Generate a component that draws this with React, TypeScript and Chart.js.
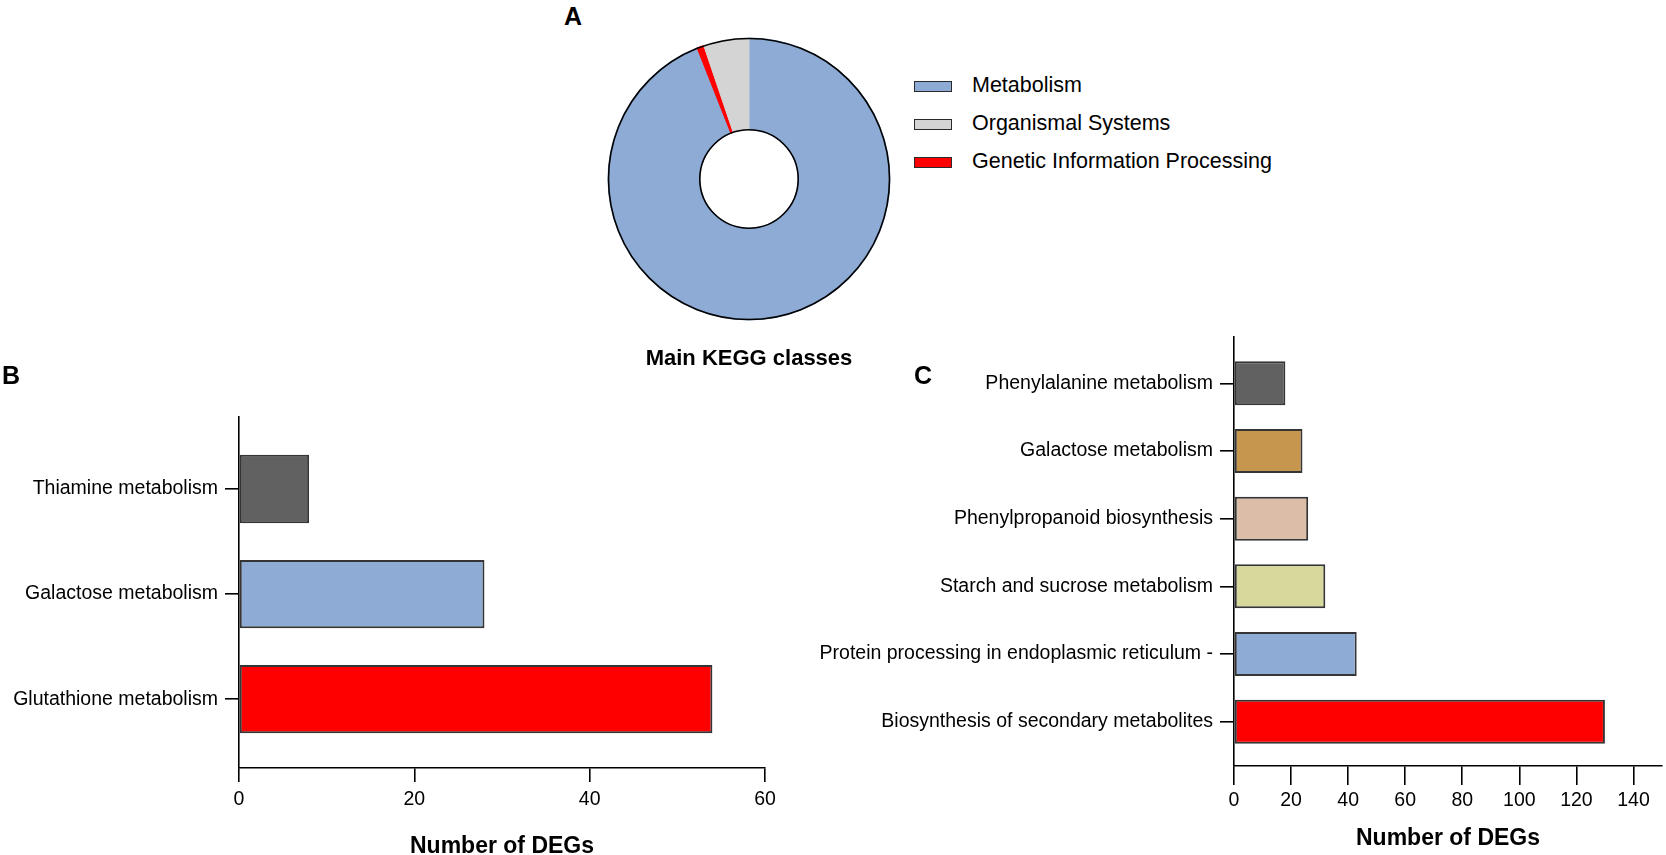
import React, { useEffect, useRef } from 'react';
import { Chart, registerables } from 'chart.js';

Chart.register(...registerables);

const FONT = '"Liberation Sans", Arial, Helvetica, sans-serif';

// ---------- Panel A: main KEGG classes (share of DEGs, %) ----------
const keggClasses = ['Metabolism', 'Genetic Information Processing', 'Organismal Systems'];
const keggShares = [94.0, 0.8, 5.2];
const keggColors = ['#8DABD4', '#FF0000', '#D4D4D4'];
const legendOrder = ['Metabolism', 'Organismal Systems', 'Genetic Information Processing'];
const donutTitle = 'Main KEGG classes';

// ---------- Panel B ----------
const bCategories = ['Thiamine metabolism', 'Galactose metabolism', 'Glutathione metabolism'];
const bValues = [8, 28, 54];
const bColors = ['#616161', '#8DABD4', '#FF0000'];
const bAxisMax = 60;
const bTickStep = 20;

// ---------- Panel C ----------
const cCategories = [
  'Phenylalanine metabolism',
  'Galactose metabolism',
  'Phenylpropanoid biosynthesis',
  'Starch and sucrose metabolism',
  'Protein processing in endoplasmic reticulum -',
  'Biosynthesis of secondary metabolites',
];
const cValues = [18, 24, 26, 32, 43, 130];
const cColors = ['#616161', '#C6964F', '#DBBDA8', '#D7D89B', '#8DABD4', '#FF0000'];
const cAxisMax = 150;
const cTickStep = 20;

const xTitle = 'Number of DEGs';

type BarLayout = {
  xMax: number;
  xStep: number;
  yAxisWidth: number;
  xAxisHeight: number;
  padTop: number;
  padRight: number;
  xTickLen: number;
  xTickPad: number;
  titlePadBottom: number;
};

function barConfig(cats: string[], vals: number[], colors: string[], L: BarLayout): any {
  return {
    type: 'bar',
    data: {
      datasets: [
        {
          data: vals.map((v, i) => ({ x: v, y: i })),
          backgroundColor: colors,
          borderColor: '#353535',
          borderWidth: 2,
          borderSkipped: false,
          barPercentage: 0.65,
          categoryPercentage: 1,
        },
      ],
    },
    options: {
      indexAxis: 'y',
      responsive: false,
      animation: false,
      events: [],
      layout: { padding: { top: L.padTop, right: L.padRight, bottom: 0, left: 0 } },
      plugins: { legend: { display: false }, tooltip: { enabled: false }, title: { display: false } },
      scales: {
        x: {
          type: 'linear',
          position: 'bottom',
          min: 0,
          max: L.xMax,
          offset: false,
          ticks: {
            stepSize: L.xStep,
            includeBounds: false,
            color: '#000',
            padding: L.xTickPad,
            maxRotation: 0,
            font: { family: FONT, size: 19.5 },
          },
          grid: {
            drawOnChartArea: false,
            drawTicks: true,
            tickLength: L.xTickLen,
            color: '#000',
            lineWidth: 1.6,
            offset: false,
          },
          border: { display: true, color: '#000', width: 1.6 },
          title: {
            display: true,
            text: xTitle,
            color: '#000',
            font: { family: FONT, size: 23, weight: 'bold', lineHeight: 1 },
            padding: { top: 0, bottom: L.titlePadBottom },
          },
          afterFit: (s: any) => {
            s.height = L.xAxisHeight;
          },
        },
        y: {
          type: 'linear',
          position: 'left',
          reverse: true,
          min: -0.685,
          max: cats.length - 1 + 0.655,
          offset: false,
          ticks: {
            stepSize: 1,
            includeBounds: false,
            autoSkip: false,
            color: '#000',
            padding: 7,
            font: { family: FONT, size: 19.5 },
            callback: (v: any) => (Number.isInteger(v) && cats[v] !== undefined ? cats[v] : ''),
          },
          grid: {
            drawOnChartArea: false,
            drawTicks: true,
            tickLength: 14,
            color: '#000',
            lineWidth: 1.6,
            offset: false,
          },
          border: { display: true, color: '#000', width: 1.6 },
          afterFit: (s: any) => {
            s.width = L.yAxisWidth;
          },
        },
      },
    },
  };
}

const ringOutline = {
  id: 'ringOutline',
  afterDatasetsDraw(chart: any) {
    const arc = chart.getDatasetMeta(0).data[0];
    if (!arc) return;
    const { x, y, outerRadius, innerRadius } = arc.getProps(['x', 'y', 'outerRadius', 'innerRadius'], true);
    const ctx = chart.ctx;
    ctx.save();
    ctx.strokeStyle = '#000';
    ctx.lineWidth = 1.6;
    ctx.beginPath();
    ctx.arc(x, y, outerRadius - 0.5, 0, Math.PI * 2);
    ctx.stroke();
    ctx.beginPath();
    ctx.arc(x, y, innerRadius, 0, Math.PI * 2);
    ctx.stroke();
    ctx.restore();
  },
};

function useChart(ref: React.RefObject<HTMLCanvasElement | null>, makeConfig: () => any) {
  useEffect(() => {
    if (!ref.current) return;
    const chart = new Chart(ref.current, makeConfig());
    return () => chart.destroy();
  }, []);
}

const abs = (left: number, top: number): React.CSSProperties => ({ position: 'absolute', left, top });

function Label({ x, y, size, text }: { x: number; y: number; size: number; text: string }) {
  return (
    <div
      style={{
        position: 'absolute',
        left: x,
        top: y,
        transform: 'translate(-50%, -50%)',
        fontFamily: FONT,
        fontWeight: 'bold',
        fontSize: size,
        lineHeight: 1,
        whiteSpace: 'nowrap',
        color: '#000',
      }}
    >
      {text}
    </div>
  );
}

export default function App() {
  const donutRef = useRef<HTMLCanvasElement>(null);
  const bRef = useRef<HTMLCanvasElement>(null);
  const cRef = useRef<HTMLCanvasElement>(null);

  useChart(donutRef, () => ({
    type: 'doughnut',
    data: {
      labels: keggClasses,
      datasets: [
        {
          data: keggShares,
          backgroundColor: keggColors,
          borderColor: keggColors,
          borderWidth: 1,
        },
      ],
    },
    options: {
      responsive: false,
      animation: false,
      events: [],
      radius: 141,
      cutout: '34.9%',
      rotation: 0,
      layout: { padding: 0 },
      plugins: { legend: { display: false }, tooltip: { enabled: false } },
    },
    plugins: [ringOutline],
  }));

  useChart(bRef, () =>
    barConfig(bCategories, bValues, bColors, {
      xMax: bAxisMax,
      xStep: bTickStep,
      yAxisWidth: 239,
      xAxisHeight: 92,
      padTop: 37,
      padRight: 35,
      xTickLen: 14,
      xTickPad: 6,
      titlePadBottom: 1.5,
    })
  );

  useChart(cRef, () =>
    barConfig(cCategories, cValues, cColors, {
      xMax: cAxisMax,
      xStep: cTickStep,
      yAxisWidth: 434,
      xAxisHeight: 94,
      padTop: 37,
      padRight: 4,
      xTickLen: 19,
      xTickPad: 4,
      titlePadBottom: 10,
    })
  );

  const legendItems = legendOrder.map((name) => {
    const i = keggClasses.indexOf(name);
    return { name, color: keggColors[i] };
  });

  return (
    <div
      style={{
        position: 'absolute',
        left: 0,
        top: 0,
        width: 1666,
        height: 855,
        overflow: 'hidden',
        background: '#fff',
      }}
    >
      <canvas ref={donutRef} width={290} height={290} style={abs(604, 34)} />
      <canvas ref={bRef} width={800} height={480} style={abs(0, 380)} />
      <canvas ref={cRef} width={866} height={560} style={abs(800, 300)} />

      <Label x={573} y={16} size={25} text="A" />
      <Label x={11} y={375} size={25} text="B" />
      <Label x={923} y={375} size={25} text="C" />
      <Label x={749} y={358} size={22} text={donutTitle} />

      {legendItems.map((it, k) => (
        <div key={it.name} style={{ position: 'absolute', left: 914, top: 86 + k * 38, transform: 'translateY(-50%)' }}>
          <div
            style={{
              position: 'absolute',
              left: 0,
              top: -5,
              width: 38,
              height: 11,
              boxSizing: 'border-box',
              border: '1.5px solid #2a2a2a',
              background: it.color,
            }}
          />
          <div
            style={{
              position: 'absolute',
              left: 58,
              top: 0,
              transform: 'translateY(-50%)',
              fontFamily: FONT,
              fontSize: 21.5,
              lineHeight: 1,
              whiteSpace: 'nowrap',
              color: '#000',
            }}
          >
            {it.name}
          </div>
        </div>
      ))}
    </div>
  );
}
